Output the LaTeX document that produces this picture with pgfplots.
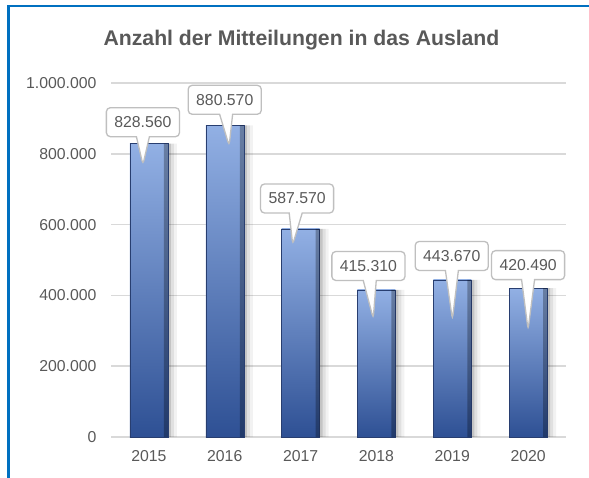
\documentclass[border=0pt]{standalone}
\usepackage{pgfplots}
\pgfplotsset{compat=1.18}
\usepackage{pgfplotstable}
\usepackage{fontspec}
\setmainfont{Liberation Sans}
\usetikzlibrary{shapes.callouts}
\definecolor{txt}{RGB}{89,89,89}
\definecolor{gridc}{RGB}{217,217,217}
\definecolor{framec}{RGB}{0,112,192}
\definecolor{bartop}{RGB}{146,176,228}
\definecolor{barmid}{RGB}{84,128,208}
\definecolor{barbot}{RGB}{46,80,148}
\definecolor{baredge}{RGB}{40,62,112}
\definecolor{boxline}{RGB}{191,191,191}

\pgfplotstableread{
x y
0 828560
1 880570
2 587570
3 415310
4 443670
5 420490
}\data

\pgfplotsset{
  callbar/.style n args={4}{
    ybar, bar width=38pt, bar shift=0pt, draw=baredge, line width=0.4pt,
    top color=bartop, middle color=barmid, bottom color=barbot,
    nodes near coords,
    every node near coord/.append style={
      rectangle callout, draw=boxline, line width=1.3pt, fill=white,
      rounded corners=4pt, text=txt, font=\fontsize{15.8}{18}\selectfont,
      anchor=center, xshift=#1pt, yshift=#2pt,
      callout relative pointer={(#3pt,#4pt)},
      callout pointer width=13pt,
      minimum height=29pt, inner xsep=8pt,
      top color=white, bottom color=white},
  }
}

\begin{document}
\begin{tikzpicture}
\path[use as bounding box] (0pt,0pt) rectangle (589pt,477pt);
\fill[white] (0pt,0pt) rectangle (589pt,477pt);
\draw[framec, line width=2.5pt] (8.5pt,-5pt) -- (8.5pt,471pt) -- (600pt,471pt);
\node[txt, font=\fontsize{21.2}{25}\selectfont\bfseries] at (301.5pt,437pt) {Anzahl der Mitteilungen in das Ausland};
\begin{axis}[
  at={(111pt,40pt)}, anchor=south west,
  scale only axis, width=455pt, height=354pt,
  xmin=-0.5, xmax=5.5, ymin=0, ymax=1000000,
  xtick={0,...,5}, xticklabels={2015,2016,2017,2018,2019,2020},
  ytick={0,200000,400000,600000,800000,1000000},
  scaled y ticks=false,
  /pgf/number format/fixed,
  /pgf/number format/1000 sep={.},
  /pgf/number format/assume math mode=true,
  axis x line*=bottom,
  axis y line*=left,
  x axis line style={draw=gridc, line width=2pt},
  y axis line style={draw=none},
  tick style={draw=none},
  ymajorgrids,
  grid style={draw=gridc, line width=1.5pt},
  ticklabel style={txt, font=\fontsize{15.8}{18}\selectfont},
  xticklabel style={yshift=-10pt},
  yticklabel style={xshift=-11pt},
  clip=false,
]
\addplot[ybar, bar width=38pt, bar shift=9pt, fill=black, fill opacity=0.05, draw=none, forget plot] table[x=x,y=y]{\data};
\addplot[ybar, bar width=38pt, bar shift=6pt, fill=black, fill opacity=0.07, draw=none, forget plot] table[x=x,y=y]{\data};
\addplot[ybar, bar width=38pt, bar shift=3pt, fill=black, fill opacity=0.12, draw=none, forget plot] table[x=x,y=y]{\data};
\addplot[callbar={-6}{21.5}{0}{-28}] coordinates {(0,828560)};
\addplot[callbar={0}{25.5}{3}{-31.5}] coordinates {(1,880570)};
\addplot[callbar={-3.5}{30.5}{-3}{-31.5}] coordinates {(2,587570)};
\addplot[callbar={-8}{24}{3.5}{-38}] coordinates {(3,415310)};
\addplot[callbar={-0.5}{24}{0.5}{-49}] coordinates {(4,443670)};
\addplot[callbar={0}{23}{0}{-50}] coordinates {(5,420490)};
\addplot[ybar, bar width=4pt, bar shift=17pt, fill=black, fill opacity=0.28, draw=none, forget plot] table[x=x,y=y]{\data};
\end{axis}
\end{tikzpicture}
\end{document}
